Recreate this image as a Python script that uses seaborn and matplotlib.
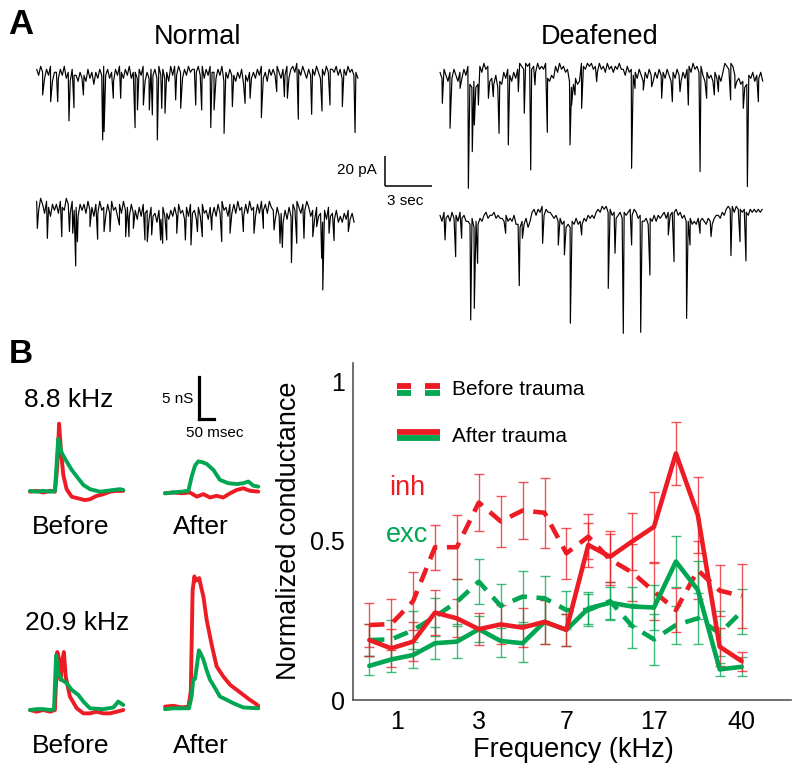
import numpy as np
import pandas as pd
import matplotlib
matplotlib.use("Agg")
import matplotlib.pyplot as plt
import seaborn as sns
from matplotlib.lines import Line2D

sns.set_style("white")
plt.rcParams["font.family"] = ["Liberation Sans", "DejaVu Sans"]
plt.rcParams["text.color"] = "black"
plt.rcParams["axes.labelcolor"] = "black"
plt.rcParams["xtick.color"] = "black"
plt.rcParams["ytick.color"] = "black"

W, H = 800, 773
RED = "#ED1C24"
GREEN = "#00A651"

# ---------------- Panel A data: spontaneous currents (s, pA) ----------------
# band level per time slot, digit d -> -2*d pA
normal1_dur = 20.5
normal1_level = ("2413524163" "3524153624" "4635462537" "3524142536" "2413524153"
                 "3524163524" "2514253614" "1413524132" "2314152413" "3524163524"
                 "4635274635" "3524153624" "2413524152" "1302413524" "2413524132"
                 "23142524132435")
normal1_ev_t = [0.38, 0.89, 1.34, 2.06, 2.38, 2.98, 4.21, 4.30, 4.89, 5.36, 6.28, 6.43,
                6.81, 7.19, 7.38, 7.70, 7.98, 8.19, 8.87, 9.19, 10.15, 10.53, 11.11,
                11.32, 11.96, 12.49, 13.30, 13.62, 14.34, 15.32, 15.81, 16.00, 16.70,
                17.55, 18.21, 18.72, 19.51, 20.32]
normal1_ev_pk = [-21.1, -25.6, -25.6, -38.4, -29.6, -21.1, -51.1, -45.6, -23.3, -23.3,
                 -42.9, -31.1, -27.8, -31.1, -34.4, -51.1, -30.0, -33.3, -24.4, -30.0,
                 -27.8, -31.1, -42.9, -31.1, -46.7, -28.9, -26.7, -23.3, -36.2, -18.9,
                 -22.2, -23.3, -37.3, -34.0, -31.8, -27.8, -28.9, -46.2]

normal2_dur = 20.26
normal2_level = ("1402513624" "2513402514" "3624251436" "2514362514" "3625143625"
                 "4736254736" "5847365746" "3625473625" "4736254736" "3625143625"
                 "2514362514" "3625142513" "4736584736" "2413524136" "4736584736"
                 "574868574758")
normal2_ev_t = [0.04, 0.68, 1.60, 2.09, 2.30, 2.49, 2.60, 3.40, 3.89, 4.30, 4.68, 5.28,
                5.68, 5.89, 6.17, 6.91, 7.06, 7.34, 7.91, 8.04, 8.30, 8.94, 9.49, 9.85,
                10.26, 10.57, 11.17, 11.81, 12.34, 13.19, 13.87, 14.47, 15.15, 15.53,
                15.68, 16.26, 16.60, 17.06, 17.62, 17.87, 18.19, 18.26, 18.66, 18.98,
                19.89]
normal2_ev_pk = [-20.0, -26.7, -25.6, -22.2, -23.3, -45.1, -28.9, -18.9, -27.3, -22.2,
                 -22.2, -17.8, -25.6, -25.6, -20.0, -27.8, -28.9, -24.4, -27.8, -30.0,
                 -27.8, -23.3, -27.8, -31.1, -22.2, -25.6, -21.1, -28.9, -23.3, -22.2,
                 -23.3, -20.0, -21.1, -30.0, -32.7, -42.9, -30.0, -26.7, -25.6, -18.9,
                 -40.0, -61.1, -23.3, -28.2, -22.2]

deaf1_dur = 20.6
deaf1_level = ("352463524635241" "78687" "13021" "6574867" "35246352" "01201021302120"
               "5645" "1302132" "687576" "0120102" "13021302131202" "241324"
               "35246352463524" "3524635246352" "1302131" "46354635463" "01201"
               "4657687" "45364536")
deaf1_ev_t = [0.15, 0.64, 1.28, 1.81, 2.06, 2.19, 2.45, 3.09, 3.40, 3.77, 4.36, 5.00,
              5.38, 5.79, 6.06, 6.85, 8.30, 8.40, 8.62, 9.04, 10.00, 12.23, 12.45, 12.98,
              13.51, 14.15, 14.83, 15.32, 15.85, 16.60, 17.02, 17.51, 17.77, 18.55,
              18.83, 19.36, 19.62, 20.32]
deaf1_ev_pk = [-26.7, -43.3, -16.7, -83.3, -58.9, -41.1, -27.8, -23.3, -22.2, -46.7,
               -54.4, -18.9, -33.3, -71.1, -14.4, -46.0, -54.4, -27.8, -21.1, -30.0,
               -12.2, -70.0, -16.7, -17.8, -15.6, -23.3, -25.6, -18.9, -27.8, -72.2,
               -23.3, -21.1, -18.9, -24.4, -16.7, -30.0, -82.2, -25.6]

deaf2_dur = 20.57
deaf2_level = ("46354635463546" "67586756" "435443545" "56465647" "7867586" "3242314233"
               "45465768" "78675767" "5645453" "2312132" "43543534" "32423546"
               "657564645" "435343" "3243546" "657675656756754" "45342" "1213122"
               "323423" "23232")
deaf2_ev_t = [0.32, 1.00, 1.38, 1.96, 2.19, 2.40, 4.19, 5.06, 5.26, 6.55, 7.55, 7.94,
              8.32, 9.04, 10.74, 11.17, 11.70, 12.23, 12.81, 13.40, 14.57, 14.94, 15.74,
              15.96, 16.60, 17.30, 18.57, 19.15, 19.53]
deaf2_ev_pk = [-24.4, -35.6, -23.3, -77.8, -70.0, -40.0, -20.0, -54.9, -23.3, -26.7,
               -27.8, -34.4, -80.0, -21.1, -56.7, -33.3, -86.7, -27.8, -86.0, -47.8,
               -21.1, -38.9, -76.7, -27.8, -20.0, -22.2, -34.9, -25.6, -38.4]

# ---------------- Panel B data: conductance traces (ms, nS) ----------------
f88_before_inh_t = [0, 22, 44, 67, 83, 91, 97, 103, 111, 122, 139, 161, 183, 200, 222, 244, 267, 289, 311]
f88_before_inh_g = [0.0, 0.1, -0.1, 0.1, 0.0, 3.0, 8.1, 5.0, 2.0, 0.3, -0.6, -0.8, -1.0, -0.9, -0.5, -0.3, 0.0, 0.1, 0.1]
f88_before_exc_t = [0, 22, 44, 67, 83, 89, 94, 106, 122, 139, 156, 178, 200, 233, 278, 300, 311]
f88_before_exc_g = [0.1, 0.0, 0.1, 0.0, 0.1, 3.5, 6.3, 4.6, 3.6, 2.6, 1.8, 0.8, 0.3, 0.0, 0.2, 0.3, 0.2]

f88_after_inh_t = [0, 28, 56, 83, 106, 128, 150, 172, 194, 217, 239, 261, 283, 311]
f88_after_inh_g = [0.0, 0.1, 0.0, 0.1, -0.4, -0.1, -0.5, -0.3, -0.5, 0.0, 0.4, 0.6, 0.3, 0.2]
f88_after_exc_t = [0, 28, 56, 78, 89, 100, 111, 125, 139, 161, 183, 211, 239, 261, 278, 295, 311]
f88_after_exc_g = [0.0, 0.1, 0.2, 0.3, 2.0, 3.3, 3.8, 3.7, 3.5, 2.8, 1.6, 1.2, 1.1, 1.2, 1.4, 0.9, 0.8]

f209_before_inh_t = [0, 22, 44, 67, 83, 91, 97, 102, 108, 113, 119, 133, 156, 178, 200, 222, 244, 267, 289, 311]
f209_before_inh_g = [0.0, -0.2, 0.0, -0.2, 0.0, 6.9, 6.0, 3.6, 6.0, 6.9, 4.0, 1.6, 0.2, -0.4, -0.4, -0.2, -0.4, -0.4, -0.2, 0.0]
f209_before_exc_t = [0, 22, 44, 67, 80, 87, 94, 106, 122, 139, 161, 178, 200, 244, 278, 294, 311]
f209_before_exc_g = [0.0, 0.1, 0.1, 0.0, 0.1, 6.5, 4.5, 3.6, 3.2, 2.4, 1.8, 1.0, 0.2, 0.1, 0.3, 1.0, 0.6]

f209_after_inh_t = [0, 28, 56, 78, 86, 92, 98, 103, 109, 114, 120, 128, 139, 156, 172, 194, 217, 239, 261, 283, 300, 311]
f209_after_inh_g = [0.2, 0.3, 0.1, 0.2, 2.0, 14.0, 15.7, 15.2, 15.3, 15.5, 14.5, 13.3, 10.5, 7.5, 5.0, 3.8, 2.8, 2.2, 1.6, 1.0, 0.6, 0.3]
f209_after_exc_t = [0, 28, 56, 80, 89, 94, 100, 106, 113, 119, 128, 139, 150, 167, 183, 206, 228, 261, 311]
f209_after_exc_g = [-0.1, 0.0, 0.0, 0.0, 1.5, 3.4, 3.5, 5.0, 6.9, 6.5, 5.8, 4.5, 3.4, 2.4, 1.4, 1.0, 0.6, 0.1, 0.0]

# ---------------- Panel B main chart data ----------------
freq_pos = list(range(18))
freq_tick_pos = [1.26, 5, 9, 13, 17]
freq_tick_labels = ["1", "3", "7", "17", "40"]
inh_before = [0.235, 0.238, 0.31, 0.479, 0.479, 0.619, 0.56, 0.594, 0.587, 0.46, 0.512, 0.44, 0.40, 0.34, 0.282, 0.407, 0.343, 0.326]
inh_before_err = [0.07, 0.08, 0.09, 0.07, 0.10, 0.09, 0.08, 0.09, 0.11, 0.08, 0.07, 0.08, 0.09, 0.09, 0.07, 0.09, 0.08, 0.10]
inh_after = [0.188, 0.162, 0.183, 0.274, 0.256, 0.222, 0.237, 0.227, 0.245, 0.22, 0.486, 0.449, 0.497, 0.543, 0.773, 0.58, 0.167, 0.122]
inh_after_err = [0.05, 0.06, 0.06, 0.07, 0.06, 0.05, 0.06, 0.06, 0.07, 0.05, 0.07, 0.08, 0.09, 0.11, 0.10, 0.12, 0.06, 0.03]
exc_before = [0.188, 0.19, 0.219, 0.261, 0.308, 0.371, 0.295, 0.324, 0.319, 0.282, 0.282, 0.31, 0.232, 0.19, 0.235, 0.256, 0.209, 0.277]
exc_before_err = [0.05, 0.06, 0.06, 0.06, 0.07, 0.07, 0.07, 0.08, 0.07, 0.06, 0.05, 0.06, 0.07, 0.08, 0.06, 0.08, 0.07, 0.07]
exc_after = [0.107, 0.127, 0.141, 0.178, 0.183, 0.222, 0.185, 0.178, 0.245, 0.22, 0.287, 0.305, 0.293, 0.29, 0.434, 0.345, 0.096, 0.104]
exc_after_err = [0.03, 0.04, 0.04, 0.05, 0.05, 0.04, 0.05, 0.06, 0.07, 0.05, 0.05, 0.05, 0.06, 0.07, 0.08, 0.09, 0.02, 0.03]

# ---------------------------------------------------------------------------
fig = plt.figure(figsize=(W / 100, H / 100), dpi=100)


def px_axes(box, origin, scale):
    x0, y0, x1, y1 = box
    ox, oy = origin
    sx, sy = scale
    ax = fig.add_axes([x0 / W, 1 - y1 / H, (x1 - x0) / W, (y1 - y0) / H])
    ax.set_xlim((x0 - ox) / sx, (x1 - ox) / sx)
    ax.set_ylim((oy - y1) / sy, (oy - y0) / sy)
    ax.axis("off")
    ax.patch.set_visible(False)
    return ax


def ptext(x, y, s, **kw):
    kw.setdefault("color", "black")
    fig.text(x / W, 1 - y / H, s, **kw)


def build_trace(level, dur, ev_t, ev_pk):
    slot_t = np.linspace(0, dur, len(level))
    slot_v = np.array([-2.0 * int(c) for c in level])
    t = np.concatenate([slot_t, np.array(ev_t)])
    v = np.concatenate([slot_v, np.array(ev_pk)])
    order = np.argsort(t, kind="stable")
    return pd.DataFrame({"t": t[order], "v": v[order]})


# ---- Panel A ----
SA = (47 / 3, 1.5)  # px per s, px per pA
traces = [
    (normal1_level, normal1_dur, normal1_ev_t, normal1_ev_pk, (28, 40, 372, 170), (36.7, 63.3)),
    (normal2_level, normal2_dur, normal2_ev_t, normal2_ev_pk, (28, 180, 372, 305), (36.7, 198.3)),
    (deaf1_level, deaf1_dur, deaf1_ev_t, deaf1_ev_pk, (432, 40, 776, 200), (440, 63.3)),
    (deaf2_level, deaf2_dur, deaf2_ev_t, deaf2_ev_pk, (432, 190, 776, 345), (440, 203.3)),
]
for lvl, dur, et, ep, box, org in traces:
    ax = px_axes(box, org, SA)
    df = build_trace(lvl, dur, et, ep)
    sns.lineplot(data=df, x="t", y="v", ax=ax, color="black", lw=0.85,
                 estimator=None, sort=False, legend=False)

# scale bar A: 20 pA / 3 s
axsb = px_axes((370, 145, 445, 195), (385, 186), SA)
axsb.plot([0, 0], [0, 20], color="black", lw=1.1, solid_capstyle="butt")
axsb.plot([0, 3], [0, 0], color="black", lw=1.1, solid_capstyle="butt")
ptext(377, 174, "20 pA", ha="right", va="baseline", fontsize=11)
ptext(387, 205, "3 sec", ha="left", va="baseline", fontsize=11)

ptext(8, 34, "A", ha="left", va="baseline", fontsize=25, fontweight="bold")
ptext(197, 44, "Normal", ha="center", va="baseline", fontsize=19.5)
ptext(600, 44, "Deafened", ha="center", va="baseline", fontsize=19.5)

# ---- Panel B traces ----
SB = (0.3, 8.4)  # px per ms, px per nS
mini = [
    (f88_before_inh_t, f88_before_inh_g, f88_before_exc_t, f88_before_exc_g, (20, 405, 135, 515), (30, 491.7)),
    (f88_after_inh_t, f88_after_inh_g, f88_after_exc_t, f88_after_exc_g, (155, 405, 270, 515), (165, 493.3)),
    (f209_before_inh_t, f209_before_inh_g, f209_before_exc_t, f209_before_exc_g, (20, 620, 135, 725), (30, 710)),
    (f209_after_inh_t, f209_after_inh_g, f209_after_exc_t, f209_after_exc_g, (155, 560, 270, 725), (165, 708.3)),
]
for it, ig, et, eg, box, org in mini:
    ax = px_axes(box, org, SB)
    df = pd.concat([
        pd.DataFrame({"t": it, "g": ig, "ch": "inh"}),
        pd.DataFrame({"t": et, "g": eg, "ch": "exc"}),
    ])
    sns.lineplot(data=df, x="t", y="g", hue="ch", hue_order=["inh", "exc"],
                 palette={"inh": RED, "exc": GREEN}, lw=2.8, ax=ax,
                 estimator=None, sort=False, legend=False)

axsb2 = px_axes((185, 370, 225, 425), (199.3, 419.3), SB)
axsb2.plot([0, 0], [0, 5], color="black", lw=2.3, solid_capstyle="projecting")
axsb2.plot([0, 50], [0, 0], color="black", lw=2.3, solid_capstyle="projecting")
ptext(193, 403, "5 nS", ha="right", va="baseline", fontsize=11)
ptext(214.5, 437, "50 msec", ha="center", va="baseline", fontsize=11)

ptext(9, 363, "B", ha="left", va="baseline", fontsize=24, fontweight="bold")
ptext(69, 407, "8.8 kHz", ha="center", va="baseline", fontsize=19)
ptext(77, 630, "20.9 kHz", ha="center", va="baseline", fontsize=19)
for yb in (534, 753):
    ptext(70.5, yb, "Before", ha="center", va="baseline", fontsize=19)
    ptext(200.5, yb, "After", ha="center", va="baseline", fontsize=19)

# ---- Panel B main chart ----
L, R, T, B = 353, 791, 363, 700
ax = fig.add_axes([L / W, 1 - B / H, (R - L) / W, (B - T) / H])
long = []
for name, vals, ch, cond in [
    ("exc_before", exc_before, "exc", "Before"),
    ("inh_before", inh_before, "inh", "Before"),
    ("exc_after", exc_after, "exc", "After"),
    ("inh_after", inh_after, "inh", "After"),
]:
    long.append(pd.DataFrame({"pos": freq_pos, "g": vals, "ch": ch, "cond": cond, "series": name}))
long = pd.concat(long, ignore_index=True)

for vals, err, col in [(exc_before, exc_before_err, GREEN), (inh_before, inh_before_err, RED),
                       (exc_after, exc_after_err, GREEN), (inh_after, inh_after_err, RED)]:
    ax.errorbar(freq_pos, vals, yerr=err, fmt="none", ecolor=col, elinewidth=1.0,
                capsize=3.5, capthick=1.0, alpha=0.75, zorder=1)

for name in ["exc_before", "inh_before", "exc_after", "inh_after"]:
    sub = long[long["series"] == name]
    col = RED if sub["ch"].iloc[0] == "inh" else GREEN
    dashed = sub["cond"].iloc[0] == "Before"
    sns.lineplot(data=sub, x="pos", y="g", ax=ax, color=col, lw=3.3,
                 estimator=None, sort=False, legend=False, zorder=3)
    ln = ax.lines[-1]
    if dashed:
        ln.set_dashes((3.3, 2.1))
        ln.set_dash_capstyle("butt")

x0_px, step_px = 369.3, 21.9
ax.set_xlim((L - x0_px) / step_px, (R - x0_px) / step_px)
ax.set_ylim(0, (B - T) / 319.0)
ax.set_xticks(freq_tick_pos)
ax.set_xticklabels(freq_tick_labels)
ax.set_yticks([0, 0.5, 1])
ax.set_yticklabels(["0", "0.5", "1"])
ax.set_xlabel("")
ax.set_ylabel("")
for s in ["top", "right"]:
    ax.spines[s].set_visible(False)
for s in ["left", "bottom"]:
    ax.spines[s].set_color("#555555")
    ax.spines[s].set_linewidth(1.2)
ax.tick_params(axis="y", direction="out", length=4, width=1, color="#555555",
               labelcolor="black", pad=2, labelsize=18)
ax.tick_params(axis="x", direction="in", length=4, width=1, color="#555555",
               labelcolor="black", pad=7, labelsize=18)
ax.patch.set_visible(False)

ptext(289, 531, "Normalized conductance", rotation=90, ha="center", va="center", fontsize=19.5)
ptext(573, 757, "Frequency (kHz)", ha="center", va="baseline", fontsize=19.5)


# legend glyphs
def fline(x0, x1, y, col, lw):
    fig.add_artist(Line2D([x0 / W, x1 / W], [1 - y / H, 1 - y / H], color=col, lw=lw,
                          solid_capstyle="butt", transform=fig.transFigure))


for xa, xb in [(396.7, 411), (425, 440)]:
    fline(xa, xb, 386.3, RED, 4.2)
    fline(xa, xb, 392.5, GREEN, 4.2)
fline(396.7, 440, 432.3, RED, 4.2)
fline(396.7, 440, 438.2, GREEN, 4.2)
ptext(451.7, 395, "Before trauma", ha="left", va="baseline", fontsize=15)
ptext(451.7, 442, "After trauma", ha="left", va="baseline", fontsize=15)
ptext(389, 495, "inh", ha="left", va="baseline", fontsize=19.5, color=RED)
ptext(386, 542, "exc", ha="left", va="baseline", fontsize=19.5, color=GREEN)

fig.savefig("out.png", dpi=100)
